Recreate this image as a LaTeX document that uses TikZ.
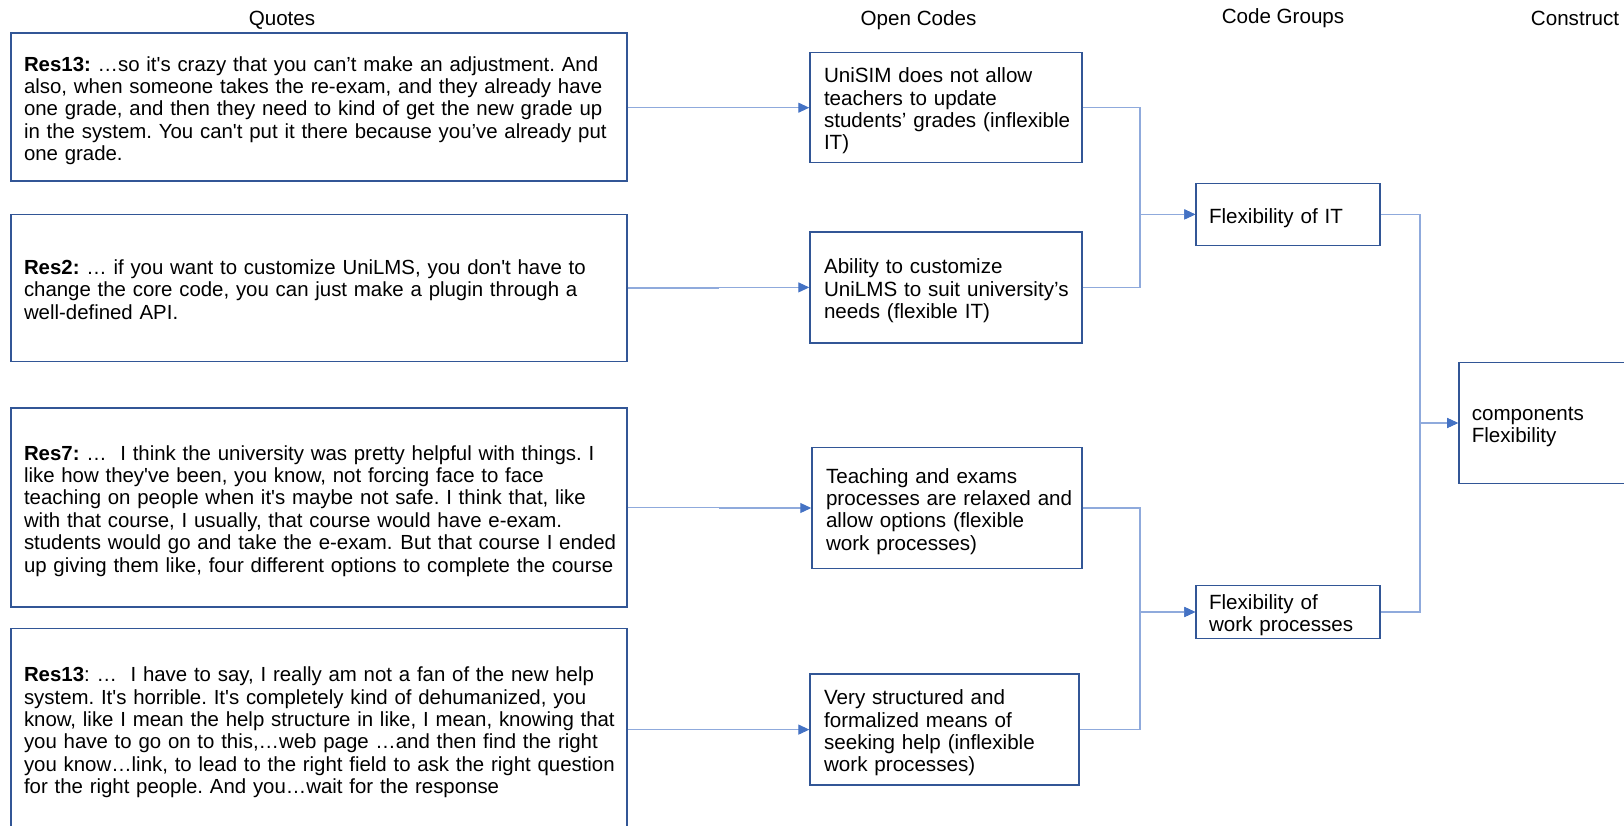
\documentclass[tikz,border=0pt]{standalone}
\usepackage{fontspec}
\newfontfamily\arial{Liberation Sans}
\usetikzlibrary{arrows.meta,calc}

\definecolor{boxblue}{RGB}{50,86,150}
\definecolor{lineblue}{RGB}{143,170,220}
\definecolor{tipblue}{RGB}{68,114,196}

% one block of hand-broken lines, never re-wrapped; the taller first row
% lowers the block a little inside its box
\newcommand\txtlines[1]{\noindent\begin{tabular}{@{}l@{}}\rule{0pt}{24pt}#1\end{tabular}}

\tikzset{
  basefont/.style={font=\arial\fontsize{20.6}{22.4}\selectfont\frenchspacing, text=black},
  box/.style={basefont, draw=boxblue, line width=1.5pt, inner xsep=13pt,
    inner ysep=0pt, align=left},
  qbox/.style={box, font=\arial\fontsize{20.4}{22.4}\selectfont\frenchspacing,
    minimum width=616pt, text width=590pt},
  obox/.style={box, inner xsep=14pt},
  gbox/.style={box, minimum width=184pt, text width=158pt},
  head/.style={basefont, inner sep=0pt},
  conn/.style={draw=lineblue, line width=1.1pt,
    -{Triangle[length=11pt,width=10pt,color=tipblue]}},
}

\begin{document}
\begin{tikzpicture}[x=1pt,y=-1pt]
\clip (0,0) rectangle (1624,825);
\fill[white] (0,0) rectangle (1624,825);

% column headings
\node[head] (hq) at (282,20.6) {Quotes};
\node[head] (ho) at (918.5,20.6) {Open Codes};
\node[head] (hg) at (1283,18.6) {Code Groups};
\node[head] (hc) at (1575,18.6) {Construct};

% quotes
\node[qbox, minimum height=148pt] (Q1) at (319,107.2) {\txtlines{%
\textbf{Res13:} …so it's crazy that you can’t make an adjustment. And\\
also, when someone takes the re-exam, and they already have\\
one grade, and then they need to kind of get the new grade up\\
in the system. You can't put it there because you’ve already put\\
one grade.}};

\node[qbox, minimum height=147pt] (Q2) at (319,288) {\txtlines{%
\textbf{Res2:} … if you want to customize UniLMS, you don't have to\\
change the core code, you can just make a plugin through a\\
well-defined API.}};

\node[qbox, minimum height=199pt] (Q3) at (319,507.5) {\txtlines{%
\textbf{Res7:} …\ \ I think the university was pretty helpful with things. I\\
like how they've been, you know, not forcing face to face\\
teaching on people when it's maybe not safe. I think that, like\\
with that course, I usually, that course would have e-exam.\\
students would go and take the e-exam.\hspace{8pt}But that course I ended\\
up giving them like, four different options to complete the course}};

\node[qbox, minimum height=201pt] (Q4) at (319,729.1) {\txtlines{%
\textbf{Res13}: …\ \ I have to say, I really am not a fan of the new help\\
system. It's horrible. It's completely kind of dehumanized, you\\
know, like I mean the help structure in like, I mean, knowing that\\
you have to go on to this,…web page …and then find the right\\
you know…link, to lead to the right field to ask the right question\\
for the right people. And you…wait for the response}};

% open codes
\node[obox, minimum width=272pt, text width=244pt, minimum height=110pt] (O1) at (946,107.7) {\txtlines{%
UniSIM does not allow\\
teachers to update\\
students’ grades (inflexible\\
IT)}};

\node[obox, minimum width=272pt, text width=244pt, minimum height=111pt] (O2) at (946,287.4) {\txtlines{%
Ability to customize\\
UniLMS to suit university’s\\
needs (flexible IT)}};

\node[obox, minimum width=270pt, text width=242pt, minimum height=121pt] (O3) at (947,508) {\txtlines{%
Teaching and exams\\
processes are relaxed and\\
allow options (flexible\\
work processes)}};

\node[obox, minimum width=269pt, text width=241pt, minimum height=111pt] (O4) at (944.6,729.6) {\txtlines{%
Very structured and\\
formalized means of\\
seeking help (inflexible\\
work processes)}};

% code groups
\node[gbox, minimum height=62pt] (G1) at (1288,214.4) {\txtlines{Flexibility of IT}};
\node[gbox, minimum height=50pt] (G2) at (1288,612) {\txtlines{%
Flexibility of\\
work processes}};

% construct
\node[box, anchor=west, minimum width=230pt, text width=204pt, minimum height=121pt] (C) at (1458,423) {\txtlines{%
components\\
Flexibility}};

% merge columns of the elbow connectors
\coordinate (J1) at (1140,0);
\coordinate (J2) at (1420,0);

% quotes to open codes
\foreach \q/\o in {Q1/O1,Q2/O2,Q3/O3,Q4/O4}
  \draw[conn] (\q.east) -| ($(\q.east)!.5!(\o.west)$) |- (\o.west);

% open codes to code groups
\draw[conn] (O1.east) -- (O1.east -| J1) |- (G1.west);
\draw[conn] (O2.east) -- (O2.east -| J1) |- (G1.west);
\draw[conn] (O3.east) -- (O3.east -| J1) |- (G2.west);
\draw[conn] (O4.east) -- (O4.east -| J1) |- (G2.west);

% code groups to construct
\draw[conn] (G1.east) -- (G1.east -| J2) |- (C.west);
\draw[conn] (G2.east) -- (G2.east -| J2) |- (C.west);
\end{tikzpicture}
\end{document}
